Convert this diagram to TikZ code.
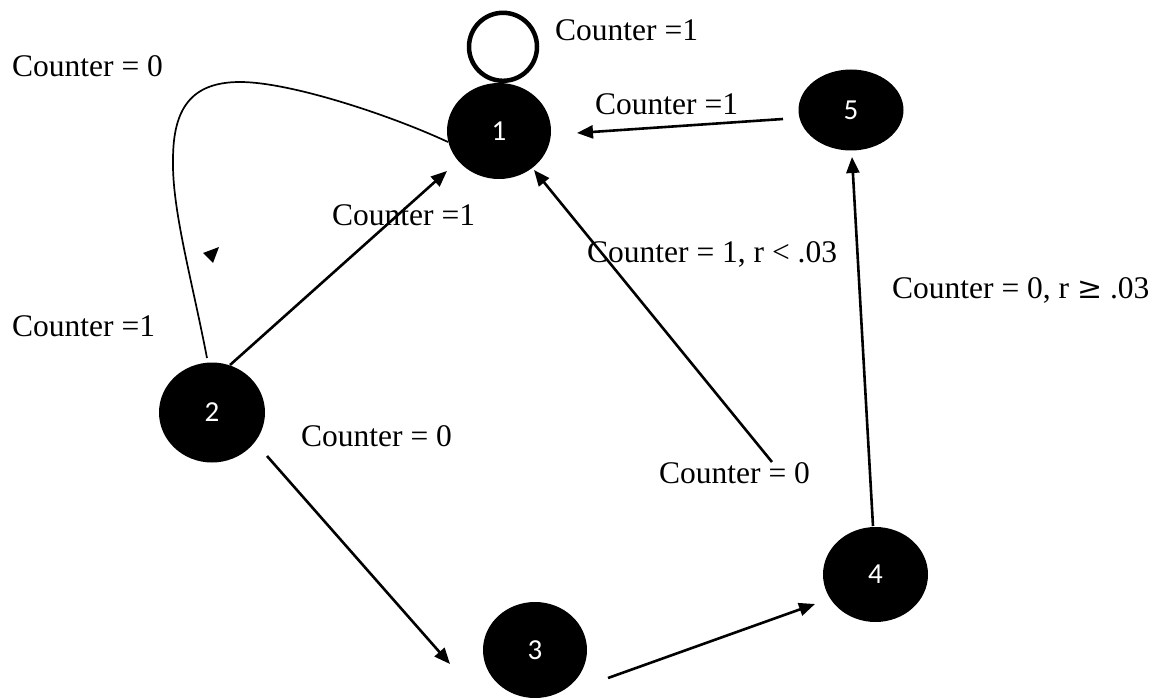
\documentclass[tikz,border=0pt]{standalone}
\usepackage{fontspec}
\setmainfont{Liberation Serif}
\newfontfamily\numfont{Carlito}
\newfontfamily\symfont{DejaVu Serif}
\usetikzlibrary{arrows.meta,shapes.geometric,calc}
\begin{document}
\begin{tikzpicture}[x=1pt,y=-1pt,
  state/.style={ellipse,fill=black,draw=none,inner sep=0pt,text=white,
    font=\numfont\fontsize{29}{32}\selectfont},
  lbl/.style={anchor=base west,inner sep=0pt,font=\fontsize{31.5}{38}\selectfont},
  arr/.style={line width=2.6pt,-{Triangle[length=16pt,width=13pt]}},
  thin/.style={line width=1.7pt},
  loopline/.style={line width=4.5pt}]
\useasboundingbox (0,0) rectangle (1154,698);
% states
\node[state,minimum width=104pt,minimum height=96pt] (n1) at (499,131) {1};
\node[state,minimum width=106pt,minimum height=100pt] (n2) at (212,412.5) {2};
\node[state,minimum width=104pt,minimum height=96pt] (n3) at (535,650) {3};
\node[state,minimum width=105pt,minimum height=95pt] (n4) at (875.5,574.5) {4};
\node[state,minimum width=105pt,minimum height=81pt] (n5) at (851,110) {5};
% self loop on 1
\draw[loopline] ($(n1.north)+(4,-36)$) circle[radius=34pt];
% connector end points
\coordinate (s21) at (230,365);  \coordinate (e21) at (447,171);
\coordinate (s23) at (267,456);  \coordinate (e23) at (450,664);
\coordinate (s34) at (608,678);  \coordinate (e34) at (815,604);
\coordinate (s45) at (873,526);  \coordinate (e45) at (852,157);
\coordinate (s41) at (772,462);  \coordinate (e41) at (534,170);
\coordinate (s51) at (783,119);  \coordinate (e51) at (577,133);
\coordinate (sc) at (207,358);   \coordinate (ec) at (448,142);
% connectors
\draw[arr] (s21) -- (e21);
\draw[arr] (s23) -- (e23);
\draw[arr] (s34) -- (e34);
\draw[arr] (s45) -- (e45);
\draw[arr] (s41) -- (e41);
\draw[arr] (s51) -- (e51);
\draw[thin] (sc) .. controls (192,280) and (172,210) .. (173,160)
  .. controls (173,110) and (190,82) .. (240,82)
  .. controls (290,82) and (390,115) .. (ec);
\fill (203,253) -- (219,247) -- (213,263) -- cycle;
% labels
\node[lbl] (t1) at (555,41) {Counter =1};
\node[lbl] (t2) at (12,77) {Counter = 0};
\node[lbl] (t3) at (595,115) {Counter =1};
\node[lbl] (t4) at (332,225) {Counter =1};
\node[lbl] (t5) at (12,336) {Counter =1};
\node[lbl] (t6) at (587,262) {Counter = 1, r < .03};
\node[lbl] (t7) at (892,298) {Counter = 0, r {\symfont\fontsize{30}{36}\selectfont ≥} .03};
\node[lbl] (t8) at (301,446) {Counter = 0};
\node[lbl] (t9) at (659,483) {Counter = 0};
\end{tikzpicture}
\end{document}
